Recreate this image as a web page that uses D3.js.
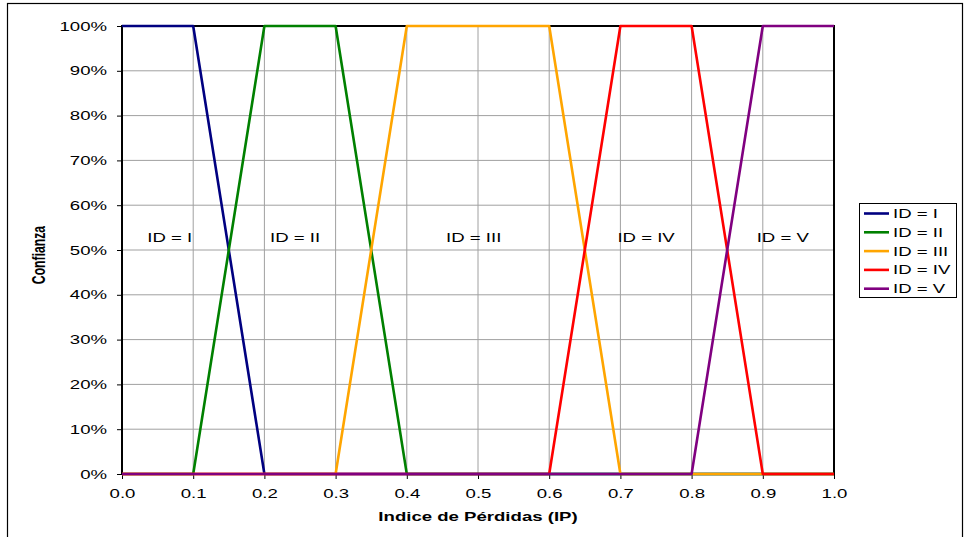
<!DOCTYPE html>
<html>
<head>
<meta charset="utf-8">
<script src="https://cdn.jsdelivr.net/npm/d3@7"></script>
<style>
  body { margin: 0; background: #fff; }
  svg { display: block; font-family: "Liberation Sans", Arial, sans-serif; }
</style>
</head>
<body>
<div id="chart"></div>
<script>
// data: membership (confianza) of each ID class over IP
const xPoints = [0.0, 0.1, 0.2, 0.3, 0.4, 0.6, 0.7, 0.8, 0.9, 1.0];
const seriesI   = [1, 1, 0, 0, 0, 0, 0, 0, 0, 0];
const seriesII  = [0, 0, 1, 1, 0, 0, 0, 0, 0, 0];
const seriesIII = [0, 0, 0, 0, 1, 1, 0, 0, 0, 0];
const seriesIV  = [0, 0, 0, 0, 0, 0, 1, 1, 0, 0];
const seriesV   = [0, 0, 0, 0, 0, 0, 0, 0, 1, 1];
const seriesNames = ["ID = I", "ID = II", "ID = III", "ID = IV", "ID = V"];
const seriesColors = ["#000080", "#008000", "#FFA500", "#FF0000", "#800080"];
const regionLabels = ["ID = I", "ID = II", "ID = III", "ID = IV", "ID = V"];
const regionX = [0.067, 0.243, 0.494, 0.736, 0.928];
const regionY = 0.528;
const xTicks = [0, 0.1, 0.2, 0.3, 0.4, 0.5, 0.6, 0.7, 0.8, 0.9, 1.0];
const yTicks = [0, 0.1, 0.2, 0.3, 0.4, 0.5, 0.6, 0.7, 0.8, 0.9, 1.0];

const allSeries = [seriesI, seriesII, seriesIII, seriesIV, seriesV];

const width = 969, height = 537;
const plot = { left: 122, right: 834, top: 26, bottom: 474 };
const fontSize = 13;
const sx = 1.43;   // the original picture is stretched horizontally

const svg = d3.select("#chart").append("svg")
    .attr("width", width)
    .attr("height", height);

// outer chart border
svg.append("rect")
    .attr("x", 7.5).attr("y", 3.5)
    .attr("width", 955).attr("height", 540)
    .attr("fill", "none")
    .attr("stroke", "#000")
    .attr("stroke-width", 1.2);

const x = d3.scaleLinear().domain([0, 1]).range([plot.left, plot.right]);
const y = d3.scaleLinear().domain([0, 1]).range([plot.bottom, plot.top]);

// grid
svg.append("g")
    .selectAll("line")
    .data(yTicks.slice(1))
    .join("line")
    .attr("x1", plot.left).attr("x2", plot.right)
    .attr("y1", d => y(d)).attr("y2", d => y(d))
    .attr("stroke", "#a0a0a0").attr("stroke-width", 1);

svg.append("g")
    .selectAll("line")
    .data(xTicks.slice(1, -1))
    .join("line")
    .attr("y1", plot.top).attr("y2", plot.bottom)
    .attr("x1", d => x(d)).attr("x2", d => x(d))
    .attr("stroke", "#a0a0a0").attr("stroke-width", 1);

// plot frame
svg.append("rect")
    .attr("x", plot.left).attr("y", plot.top)
    .attr("width", plot.right - plot.left).attr("height", plot.bottom - plot.top)
    .attr("fill", "none")
    .attr("stroke", "#000")
    .attr("stroke-width", 2);

// axes
const yAxis = svg.append("g")
    .attr("transform", `translate(${plot.left},0)`)
    .call(d3.axisLeft(y).tickValues(yTicks).tickFormat(d3.format(".0%")).tickSize(5).tickPadding(10));
const xAxis = svg.append("g")
    .attr("transform", `translate(0,${plot.bottom})`)
    .call(d3.axisBottom(x).tickValues(xTicks).tickFormat(d3.format(".1f")).tickSize(5).tickPadding(10));

[xAxis, yAxis].forEach(a => {
    a.select(".domain").remove();
    a.selectAll(".tick line").attr("stroke", "#000");
    a.selectAll("text")
        .attr("font-family", "Liberation Sans, Arial, sans-serif")
        .attr("font-size", fontSize)
        .attr("fill", "#000");
});
yAxis.selectAll("text")
    .attr("x", 0)
    .attr("transform", `translate(-15,0) scale(${sx},1)`);
xAxis.selectAll("text")
    .attr("transform", `scale(${sx},1)`);

// series lines
const line = d3.line()
    .x((d, i) => x(xPoints[i]))
    .y(d => y(d));

svg.append("g")
    .selectAll("path")
    .data(allSeries)
    .join("path")
    .attr("d", d => line(d))
    .attr("fill", "none")
    .attr("stroke", (d, i) => seriesColors[i])
    .attr("stroke-width", 2.6)
    .attr("stroke-linejoin", "round");

// region labels
svg.append("g")
    .selectAll("text")
    .data(regionLabels)
    .join("text")
    .attr("transform", (d, i) => `translate(${x(regionX[i])},${y(regionY)}) scale(${sx},1)`)
    .attr("text-anchor", "middle")
    .attr("dy", "0.35em")
    .attr("font-size", fontSize)
    .text(d => d);

// axis titles
svg.append("text")
    .attr("transform", `translate(478,521) scale(${sx},1)`)
    .attr("text-anchor", "middle")
    .attr("font-size", fontSize)
    .attr("font-weight", "bold")
    .text("Indice de Pérdidas (IP)");

svg.append("text")
    .attr("transform", `translate(39,${(plot.top + plot.bottom) / 2 + 5}) scale(${sx},1) rotate(-90)`)
    .attr("text-anchor", "middle")
    .attr("dy", "0.35em")
    .attr("font-size", 12.2)
    .attr("font-weight", "bold")
    .text("Confianza");

// legend
const legend = svg.append("g").attr("transform", "translate(859,203)");
legend.append("rect")
    .attr("x", 0.5).attr("y", 0.5)
    .attr("width", 97).attr("height", 94)
    .attr("fill", "#fff")
    .attr("stroke", "#000");

const item = legend.selectAll("g.item")
    .data(seriesNames)
    .join("g")
    .attr("class", "item")
    .attr("transform", (d, i) => `translate(0,${10.5 + i * 18.8})`);

item.append("line")
    .attr("x1", 5).attr("x2", 30)
    .attr("stroke", (d, i) => seriesColors[i])
    .attr("stroke-width", 2.6);

item.append("text")
    .attr("transform", `translate(34,0) scale(${sx},1)`)
    .attr("dy", "0.35em")
    .attr("font-size", fontSize)
    .text(d => d);
</script>
</body>
</html>
